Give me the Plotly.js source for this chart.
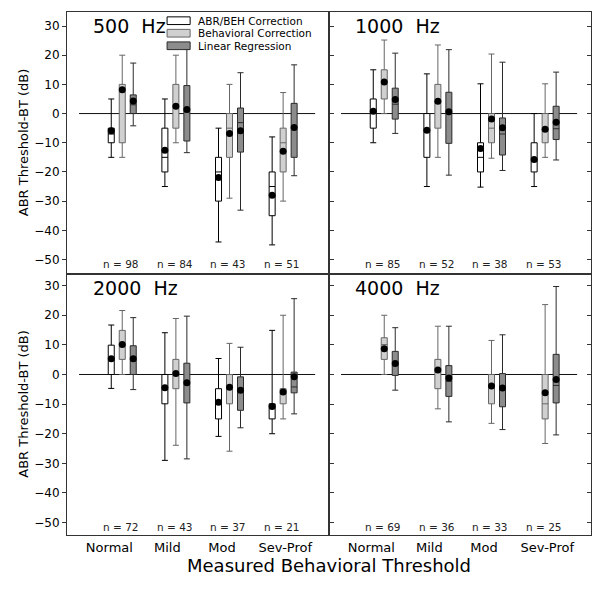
<!DOCTYPE html>
<html><head><meta charset="utf-8">
<script src="https://cdn.plot.ly/plotly-3.0.1.min.js"></script>
<style>body{margin:0;background:#fff}</style>
</head><body><div id="chart" style="width:600px;height:590px"></div>
<script>
const categories = ['Normal', 'Mild', 'Mod', 'Sev-Prof'];
const seriesNames = ['ABR/BEH Correction', 'Behavioral Correction', 'Linear Regression'];
const panelLabels = ['500  Hz', '1000  Hz', '2000  Hz', '4000  Hz'];
const yTitleText = 'ABR Threshold-BT (dB)';
const xTitleText = 'Measured Behavioral Threshold';

// each row (one per category): [lower whisker, Q1, median, Q3, upper whisker, mean]
const hz500_abr = [[-15, -10, -7, -5, 5, -5.9], [-25, -20, -15, -5, 5, -12.6], [-44, -30, -20, -15, -5, -21.9], [-45, -35, -25, -20, -8, -28]];
const hz500_beh = [[-15, -10, 8, 10, 20, 8.2], [-10, -5, 2.5, 10, 20, 2.5], [-29, -15, -5, 0, 10, -6.8], [-30, -20, -10, -5, 7.2, -12.9]];
const hz500_lin = [[-4.2, 0, 3, 6.4, 17.3, 4.3], [-13.4, -9.4, 0.6, 9.6, 22.1, 1.4], [-33.1, -13.2, -3.1, 1.9, 14, -5.9], [-21.3, -15, -5, 3.5, 16.7, -4.8]];

const hz1000_abr = [[-10, -5, 0.8, 5, 15, 0.8], [-25, -15, -5.7, 0, 13.6, -5.7], [-25.2, -20, -15, -10, 10.2, -12], [-25, -20, -15.7, -10, 0, -15.7]];
const hz1000_beh = [[0, 5, 10.8, 15, 25.2, 10.8], [-15, -5, 4, 10, 23.5, 4.2], [-15.3, -10, -5, 0, 20.4, -1.9], [-15, -10, -5.4, 0, 10.2, -5.4]];
const hz1000_lin = [[-6.8, -1.9, 3.2, 8.7, 20.7, 4.8], [-21.1, -10.2, 0.6, 7.3, 21.9, 0.6], [-19.5, -14.2, -7, -1.5, 17.6, -4.9], [-15.9, -8.9, -5.2, 2.5, 14.2, -3]];

const hz2000_abr = [[-4.7, 0, 5.3, 9.9, 16.7, 5.3], [-29, -9.9, -4.5, 0, 14.1, -4.5], [-20.9, -15, -9.4, -4.8, 5.4, -9.4], [-20, -15, -10.8, -9.9, 14.9, -10.8]];
const hz2000_beh = [[0, 5.1, 10.1, 14.9, 21.6, 10.1], [-23.9, -4.8, 0.3, 5.1, 18.9, 0.3], [-25.9, -9.9, -4.3, 0, 10.5, -4.3], [-15, -9.9, -5.9, -4.8, 20, -5.9]];
const hz2000_lin = [[-5.1, 0, 5.3, 9.7, 19.2, 5.3], [-28.5, -9.6, -2.8, 3.8, 19.7, -2.8], [-18, -12.1, -5.3, -0.8, 9.2, -5.3], [-13.3, -6.2, -4.2, 0.8, 25.6, -0.8]];

const hz4000_abr = [null, null, null, null];
const hz4000_beh = [[0, 5.1, 10.1, 12.4, 20, 8.7], [-11.6, -4.8, 1.5, 5.1, 16.3, 1.5], [-16.5, -9.9, -3.9, 0, 11.5, -3.9], [-23.3, -15, -9.9, 0, 23.6, -6.2]];
const hz4000_lin = [[-5.3, -0.3, 3.7, 7.8, 15.8, 3.7], [-16, -7.4, -2.3, 3, 16.3, -1.2], [-18.6, -10.9, -4.6, 0.3, 13.4, -4.6], [-20.4, -9.6, -3.7, 6.8, 29.7, -1.7]];

const n500 = [98, 84, 43, 51];
const n1000 = [85, 52, 38, 53];
const n2000 = [72, 43, 37, 21];
const n4000 = [69, 36, 33, 25];

const yTicks = [30, 20, 10, 0, -10, -20, -30, -40, -50];

// ---- build ----
const FONT = 'DejaVu Sans, Liberation Sans, Arial, sans-serif';
const styles = [
  {fill: '#ffffff', line: '#000000'},
  {fill: '#d0d0d0', line: '#666666'},
  {fill: '#8c8c8c', line: '#2a2a2a'}
];
const offsets = [-0.205, 0, 0.205];
const labelShift = [-0.24, -0.16, -0.14, 0.04];
const panels = [
  {label: panelLabels[0], sets: [hz500_abr, hz500_beh, hz500_lin], n: n500, xa: 'x', ya: 'y'},
  {label: panelLabels[1], sets: [hz1000_abr, hz1000_beh, hz1000_lin], n: n1000, xa: 'x2', ya: 'y2'},
  {label: panelLabels[2], sets: [hz2000_abr, hz2000_beh, hz2000_lin], n: n2000, xa: 'x3', ya: 'y3'},
  {label: panelLabels[3], sets: [hz4000_abr, hz4000_beh, hz4000_lin], n: n4000, xa: 'x4', ya: 'y4'}
];

const traces = [];
const annotations = [];
const shapes = [];

panels.forEach((p, pi) => {
  p.sets.forEach((rows, si) => {
    const idx = [];
    rows.forEach((r, i) => { if (r) idx.push(i); });
    if (!idx.length) return;
    const xs = idx.map(i => i + offsets[si]);
    traces.push({
      type: 'box', name: seriesNames[si], xaxis: p.xa, yaxis: p.ya,
      x: xs,
      lowerfence: idx.map(i => rows[i][0]),
      q1: idx.map(i => rows[i][1]),
      median: idx.map(i => rows[i][2]),
      q3: idx.map(i => rows[i][3]),
      upperfence: idx.map(i => rows[i][4]),
      width: 0.112, whiskerwidth: 1, boxpoints: false,
      fillcolor: styles[si].fill, line: {color: styles[si].line, width: 1},
      showlegend: false, hoverinfo: 'skip'
    });
    traces.push({
      type: 'scatter', mode: 'markers', name: seriesNames[si] + ' mean',
      xaxis: p.xa, yaxis: p.ya, x: xs, y: idx.map(i => rows[i][5]),
      marker: {color: '#000', size: 7}, showlegend: false, hoverinfo: 'skip'
    });
  });
  const xd = p.xa + ' domain', yd = p.ya + ' domain';
  shapes.push({type: 'line', xref: xd, yref: p.ya, x0: 0.046, x1: 0.947, y0: 0, y1: 0,
    line: {color: '#111', width: 1}, layer: 'below'});
  annotations.push({xref: xd, yref: yd, x: 0.09, y: 0.945, xanchor: 'left', yanchor: 'middle',
    text: p.label, showarrow: false, font: {family: FONT, size: 19, color: '#000'}});
  p.n.forEach((nv, i) => {
    annotations.push({xref: p.xa, yref: p.ya, x: i - 0.02, y: -51.4, text: 'n = ' + nv,
      showarrow: false, xanchor: 'center', yanchor: 'middle',
      font: {family: FONT, size: 10.5, color: '#222'}});
  });
  if (pi % 2 === 0) {
    annotations.push({xref: 'paper', yref: yd, x: -0.083, y: 0.5, xanchor: 'center', yanchor: 'middle',
      textangle: -90, text: yTitleText, showarrow: false,
      font: {family: FONT, size: 13, color: '#000'}});
  }
});

// legend (top-left panel)
const legRows = [0.9667, 0.9189, 0.8709];
seriesNames.forEach((s, si) => {
  shapes.push({type: 'rect', xref: 'x domain', yref: 'y domain', x0: 0.382, x1: 0.470,
    y0: legRows[si] - 0.0147, y1: legRows[si] + 0.0147,
    fillcolor: styles[si].fill, line: {color: si === 0 ? '#000' : styles[si].line, width: 1}});
  annotations.push({xref: 'x domain', yref: 'y domain', x: 0.497, y: legRows[si],
    xanchor: 'left', yanchor: 'middle', text: s, showarrow: false, borderpad: 0,
    font: {family: FONT, size: 10.5, color: '#000'}});
});

annotations.push({xref: 'paper', yref: 'paper', x: 0.5, y: -0.058, xanchor: 'center', yanchor: 'middle',
  text: xTitleText, showarrow: false, font: {family: FONT, size: 18, color: '#000'}});

const xBase = {range: [-1.03, 3.855], showgrid: false, zeroline: false, showline: true, mirror: true,
  linecolor: '#333', linewidth: 1, ticks: '', tickvals: categories.map((c, i) => i + labelShift[i]),
  ticktext: categories, tickfont: {family: FONT, size: 13, color: '#000'}, fixedrange: true};
function yLeft(dom, anchor, range) {
  return {domain: dom, anchor: anchor, range: range, showgrid: false, zeroline: false, showline: true,
    mirror: 'ticks', linecolor: '#333', linewidth: 1, ticks: 'outside', ticklen: 4, tickcolor: '#333',
    tickvals: yTicks, tickfont: {family: FONT, size: 12, color: '#000'}, fixedrange: true};
}
function yRight(dom, anchor, range) {
  return {domain: dom, anchor: anchor, range: range, side: 'right', showgrid: false, zeroline: false,
    showline: true, mirror: 'ticks', linecolor: '#333', linewidth: 1, ticks: 'inside', ticklen: 4,
    tickcolor: '#333', tickvals: yTicks, showticklabels: false, fixedrange: true};
}
function yOver(over, anchor, range) {
  return {overlaying: over, anchor: anchor, range: range, side: 'left', showgrid: false, zeroline: false,
    showline: false, ticks: 'outside', ticklen: 4, tickcolor: '#333', tickvals: yTicks,
    showticklabels: false, fixedrange: true};
}
const rTop = [-54.8, 34.8], rBot = [-54.2, 34.1];

const layout = {
  width: 600, height: 590,
  margin: {l: 67, r: 9, t: 12, b: 55},
  paper_bgcolor: '#fff', plot_bgcolor: '#fff',
  boxmode: 'overlay', showlegend: false,
  font: {family: FONT, color: '#000'},
  xaxis: Object.assign({}, xBase, {domain: [0, 0.5], anchor: 'y', showticklabels: false}),
  xaxis2: Object.assign({}, xBase, {domain: [0.5, 1], anchor: 'y2', showticklabels: false}),
  xaxis3: Object.assign({}, xBase, {domain: [0, 0.5], anchor: 'y3'}),
  xaxis4: Object.assign({}, xBase, {domain: [0.5, 1], anchor: 'y4'}),
  yaxis: yLeft([0.5, 1], 'x', rTop),
  yaxis2: yRight([0.5, 1], 'x2', rTop),
  yaxis3: yLeft([0, 0.5], 'x3', rBot),
  yaxis4: yRight([0, 0.5], 'x4', rBot),
  yaxis5: yOver('y2', 'x2', rTop),
  yaxis6: yOver('y4', 'x4', rBot),
  shapes: shapes,
  annotations: annotations
};

Plotly.newPlot('chart', traces, layout, {displayModeBar: false, staticPlot: true});
</script></body></html>
